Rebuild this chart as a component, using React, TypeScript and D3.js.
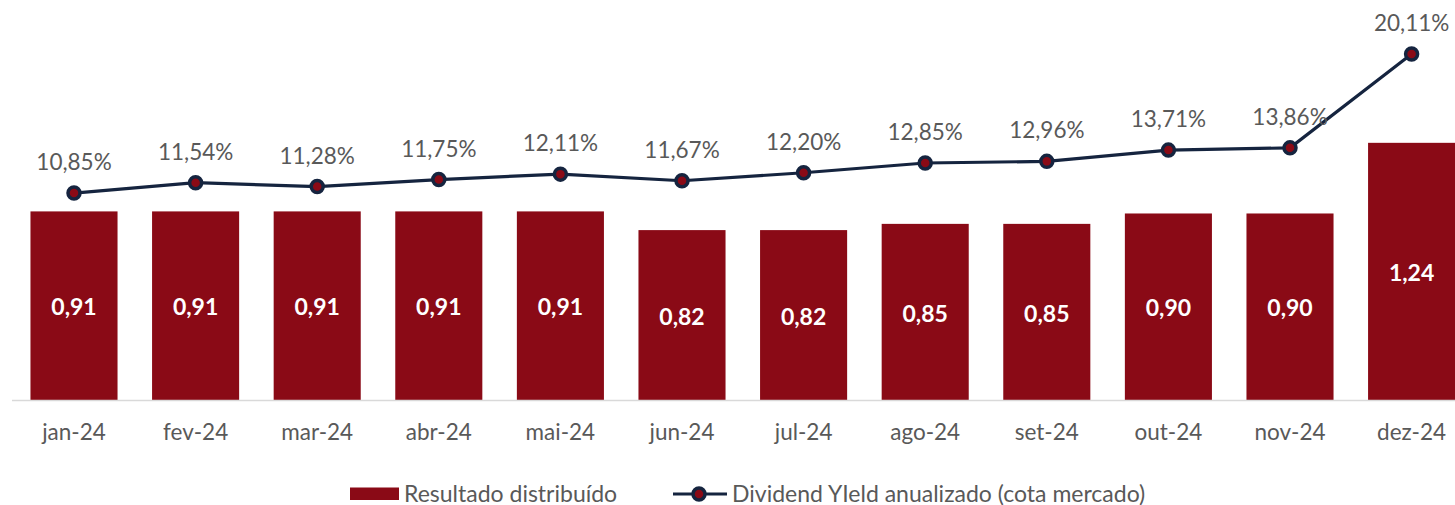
import { useEffect, useRef } from 'react'
import * as d3 from 'd3'

const MONTHS = ['jan-24', 'fev-24', 'mar-24', 'abr-24', 'mai-24', 'jun-24', 'jul-24', 'ago-24', 'set-24', 'out-24', 'nov-24', 'dez-24']
const RESULTADO = [0.91, 0.91, 0.91, 0.91, 0.91, 0.82, 0.82, 0.85, 0.85, 0.90, 0.90, 1.24]
const DY = [10.85, 11.54, 11.28, 11.75, 12.11, 11.67, 12.20, 12.85, 12.96, 13.71, 13.86, 20.11]

const BAR = '#8A0A16'
const NAVY = '#15243F'
const TEXT = '#595959'
const FONT = 'Lato, "Open Sans", sans-serif'
const FS = '22.5px'

const fmt = (v: number, d: number) => v.toFixed(d).replace('.', ',')

export default function App() {
  const svgRef = useRef<SVGSVGElement | null>(null)

  useEffect(() => {
    const el = svgRef.current
    if (!el) return
    const width = 1455
    const height = 505
    const baseY = 400.5

    d3.select(el).selectAll('*').remove()
    const svg = d3.select(el).attr('width', width).attr('height', height)

    const x = d3.scaleBand().domain(MONTHS).range([13.2, 1472.4]).paddingInner(0.284).paddingOuter(0.142)
    const yBar = d3.scaleLinear().domain([0, 1]).range([baseY, baseY - 207.8])
    const yLine = d3.scaleLinear().domain([0, 10]).range([355.9, 355.9 - 150.1])

    // Bars
    svg.append('g').selectAll('rect').data(RESULTADO).join('rect')
      .attr('x', (_, i) => x(MONTHS[i])!)
      .attr('y', (d) => yBar(d))
      .attr('width', x.bandwidth())
      .attr('height', (d) => baseY - yBar(d))
      .attr('fill', BAR)

    // Bar labels
    svg.append('g').selectAll('text').data(RESULTADO).join('text')
      .attr('x', (_, i) => x(MONTHS[i])! + x.bandwidth() / 2)
      .attr('y', (d) => (yBar(d) + baseY) / 2 + 9.5)
      .attr('text-anchor', 'middle')
      .attr('fill', '#FFFFFF')
      .style('font-family', FONT)
      .style('font-weight', 700)
      .style('font-size', '23px')
      .text((d) => fmt(d, 2))

    // Baseline
    svg.append('line')
      .attr('x1', 12).attr('x2', width).attr('y1', baseY).attr('y2', baseY)
      .attr('stroke', '#D9D9D9').attr('stroke-width', 1.3)

    // X axis labels
    svg.append('g').selectAll('text').data(MONTHS).join('text')
      .attr('x', (d) => x(d)! + x.bandwidth() / 2)
      .attr('y', 440)
      .attr('text-anchor', 'middle')
      .attr('fill', TEXT)
      .style('font-family', FONT)
      .style('font-size', FS)
      .text((d) => d)

    // Line
    const cx = (i: number) => x(MONTHS[i])! + x.bandwidth() / 2
    const line = d3.line<number>().x((_, i) => cx(i)).y((d) => yLine(d))
    svg.append('path').datum(DY)
      .attr('d', line)
      .attr('fill', 'none')
      .attr('stroke', NAVY)
      .attr('stroke-width', 3.2)

    svg.append('g').selectAll('circle').data(DY).join('circle')
      .attr('cx', (_, i) => cx(i))
      .attr('cy', (d) => yLine(d))
      .attr('r', 6)
      .attr('fill', BAR)
      .attr('stroke', NAVY)
      .attr('stroke-width', 3.5)

    svg.append('g').selectAll('text').data(DY).join('text')
      .attr('x', (_, i) => cx(i))
      .attr('y', (d) => yLine(d) - 23)
      .attr('text-anchor', 'middle')
      .attr('fill', TEXT)
      .style('font-family', FONT)
      .style('font-size', FS)
      .text((d) => fmt(d, 2) + '%')

    // Legend
    const lg = svg.append('g')
    lg.append('rect').attr('x', 350).attr('y', 487.5).attr('width', 49).attr('height', 12.5).attr('fill', BAR)
    lg.append('text').attr('x', 404).attr('y', 501.5)
      .attr('fill', TEXT).style('font-family', FONT).style('font-size', '23px')
      .text('Resultado distribuído')
    lg.append('line').attr('x1', 673).attr('x2', 727).attr('y1', 494).attr('y2', 494)
      .attr('stroke', NAVY).attr('stroke-width', 3.2)
    lg.append('circle').attr('cx', 699).attr('cy', 494).attr('r', 6)
      .attr('fill', BAR).attr('stroke', NAVY).attr('stroke-width', 3.5)
    lg.append('text').attr('x', 732).attr('y', 501.5)
      .attr('fill', TEXT).style('font-family', FONT).style('font-size', '23px')
      .text('Dividend YIeld anualizado (cota mercado)')
  }, [])

  return (
    <div style={{ position: 'absolute', left: 0, top: 0, width: 1455, height: 505, background: '#fff' }}>
      <svg ref={svgRef} style={{ display: 'block' }} />
    </div>
  )
}
